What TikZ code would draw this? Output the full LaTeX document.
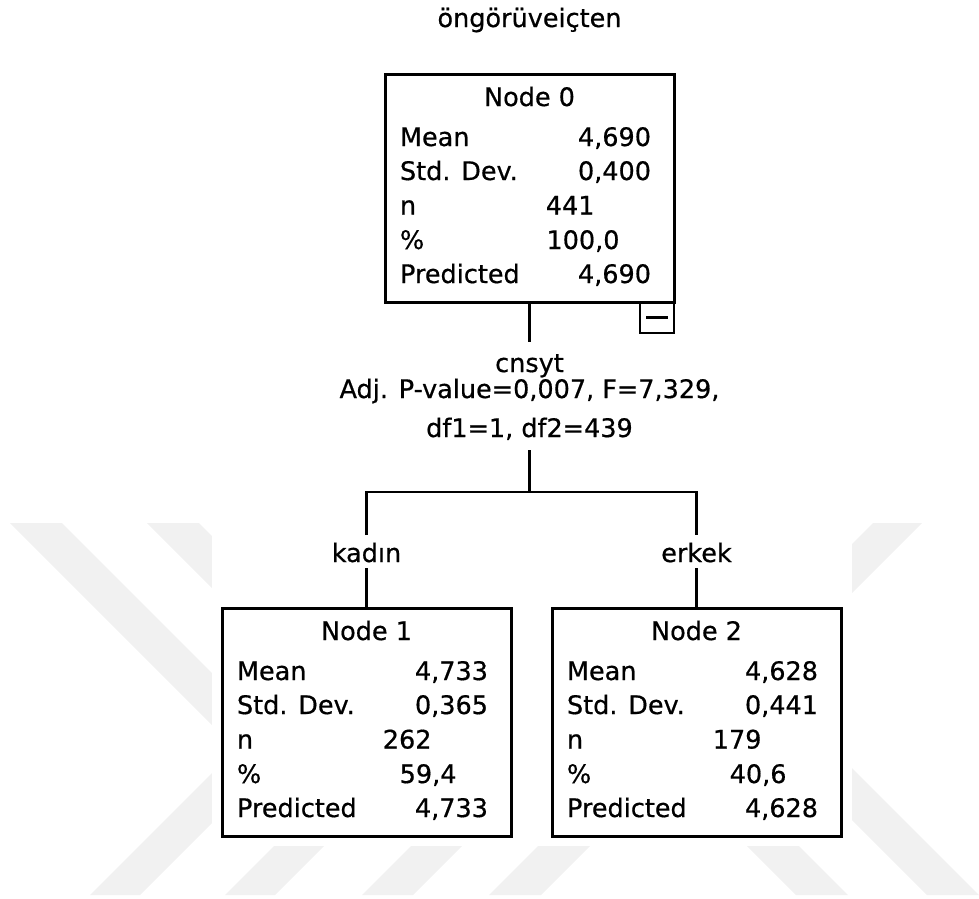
\documentclass[tikz,border=0pt]{standalone}
\usepackage{fontspec}
\setmainfont[FakeBold=0.6]{DejaVu Sans}
\usetikzlibrary{calc}
\definecolor{wmark}{HTML}{F1F1F1}

% One tree node: frame, heading and the five statistics rows
% #1 name, #2 centre x, #3 top y, #4 heading, #5 mean, #6 std. dev., #7 n, #8 percent, #9 predicted
\newcommand\statnode[9]{%
  \node[statbox, anchor=north] (#1) at (#2,#3) {};
  \node[anchor=base] (#1-head) at ($(#1.north)+(0,32)$) {#4};
  \node[anchor=base west] (#1-k1) at ($(#1.north west)+(15,72)$) {Mean};
  \node[anchor=base east] (#1-v1) at ($(#1.north east)+(-23,72)$) {#5};
  \node[anchor=base west] (#1-k2) at ($(#1.north west)+(15,106)$) {Std. Dev.};
  \node[anchor=base east] (#1-v2) at ($(#1.north east)+(-23,106)$) {#6};
  \node[anchor=base west] (#1-k3) at ($(#1.north west)+(15,140.5)$) {n};
  \node[anchor=base east] (#1-v3) at ($(#1.north west)+(209.5,140.5)$) {#7};
  \node[anchor=base west] (#1-k4) at ($(#1.north west)+(15,175)$) {\%};
  \node[anchor=base east] (#1-v4) at ($(#1.north west)+(234.5,175)$) {#8};
  \node[anchor=base west] (#1-k5) at ($(#1.north west)+(15,209)$) {Predicted};
  \node[anchor=base east] (#1-v5) at ($(#1.north east)+(-23,209)$) {#9};
}

\begin{document}
\begin{tikzpicture}[x=1pt, y=-1pt,
  every node/.style={font=\fontsize{25.5}{30}\selectfont, inner sep=0pt, outer sep=0pt},
  statbox/.style={draw, line width=3pt, minimum width=289pt, minimum height=228pt},
  wire/.style={line width=2.6pt, line join=miter},
  branch/.style={anchor=base, text height=21pt, text depth=0pt, inner ysep=6pt}]

\useasboundingbox (0,0) rectangle (979,898);

% background stripes
\fill[wmark] (10,523) -- (62,523) -- (279,740) -- (227,740) -- cycle;
\fill[wmark] (147,523) -- (199,523) -- (279,603) -- (227,603) -- cycle;
\fill[wmark] (90,895) -- (140,895) -- (275,760) -- (225,760) -- cycle;
\fill[wmark] (225,895) -- (275,895) -- (335,835) -- (285,835) -- cycle;
\fill[wmark] (362,895) -- (413,895) -- (473,835) -- (422,835) -- cycle;
\fill[wmark] (489,895) -- (541,895) -- (601,835) -- (549,835) -- cycle;
\fill[wmark] (736,835) -- (788,835) -- (848,895) -- (796,895) -- cycle;
\fill[wmark] (873,523) -- (922,523) -- (842,603) -- (793,603) -- cycle;
\fill[wmark] (927,895) -- (979,895) -- (844,760) -- (792,760) -- cycle;
\fill[white] (212,523) rectangle (852,846);

% title
\node[anchor=base] (title) at (529.5,27) {öngörüveiçten};

% tree nodes
\statnode{n0}{529.5}{74}{Node 0}{4,690}{0,400}{441}{100,0}{4,690}
\statnode{n1}{366.5}{608}{Node 1}{4,733}{0,365}{262}{59,4}{4,733}
\statnode{n2}{696.5}{608}{Node 2}{4,628}{0,441}{179}{40,6}{4,628}

% collapse button
\node[draw, line width=2.6pt, minimum width=34pt, minimum height=31pt, anchor=north east]
  (n0btn) at (n0.south east) {\rule[-1.2pt]{22pt}{2.4pt}};

% split description
\node[anchor=base, text height=21pt, inner ysep=9pt] (split) at (529.5,372) {cnsyt};
\node[anchor=base] (stat) at (529.5,398) {Adj. P-value=0,007, F=7,329,};
\node[anchor=base, text depth=0pt, inner ysep=13pt] (dfs) at (529.5,437) {df1=1, df2=439};

% branch labels
\node[branch] (lk) at (366.5,562) {kadın};
\node[branch] (le) at (696.5,562) {erkek};

% connectors
\coordinate (jm) at (529.5,492);
\coordinate (jl) at (366.5,492);
\coordinate (jr) at (696.5,492);
\draw[wire] (n0.south) -- (split.north);
\draw[wire] (dfs.south) -- (jm);
\draw[wire] (lk.north) -- (jl) -- (jr) -- (le.north);
\draw[wire] (lk.south) -- (n1.north);
\draw[wire] (le.south) -- (n2.north);
\end{tikzpicture}
\end{document}
